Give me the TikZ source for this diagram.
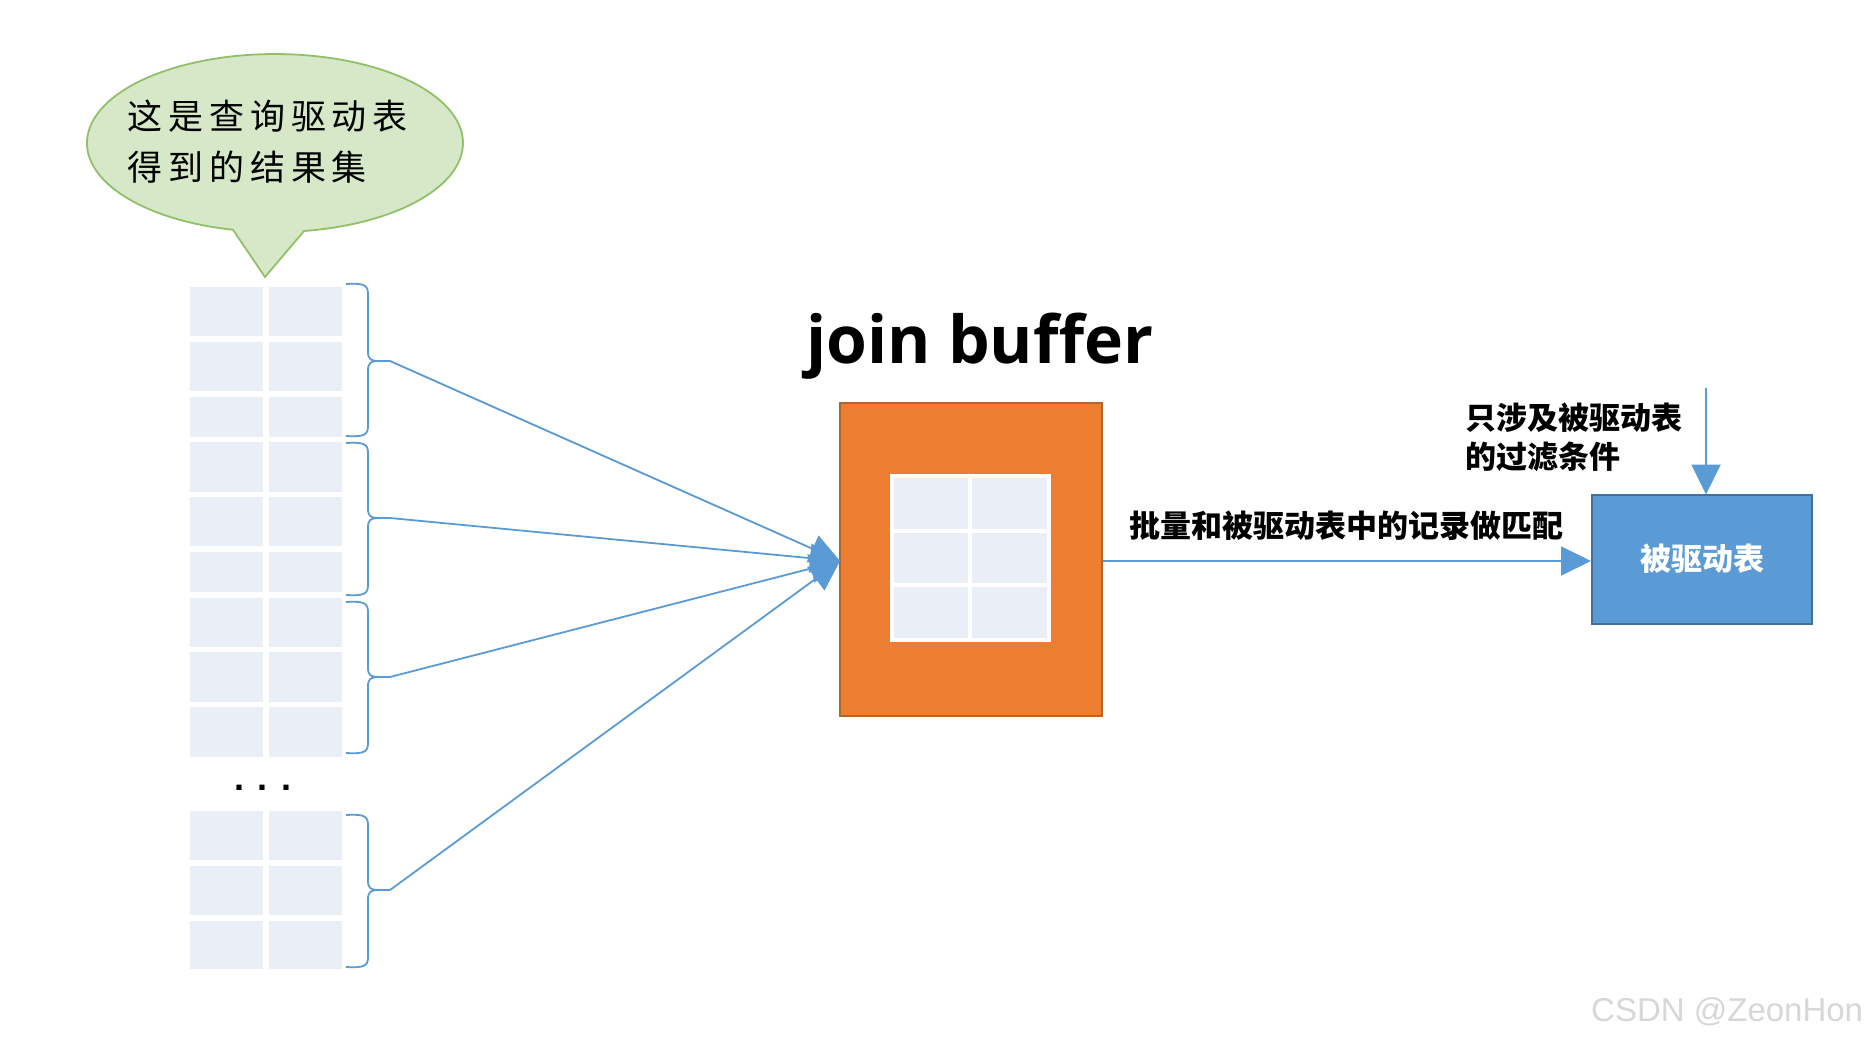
\documentclass[tikz,border=0pt]{standalone}
\usepackage{fontspec}
\usetikzlibrary{arrows.meta}
\newfontfamily\cjk{Noto Sans CJK SC}
\newfontfamily\cjkls[LetterSpace=17]{Noto Sans CJK SC}
\newfontfamily\jbfont{Open Sans}
\newfontfamily\dotfont[LetterSpace=37]{Liberation Sans}
\newfontfamily\wmfont{Liberation Sans}
\definecolor{bubfill}{RGB}{214,232,200}
\definecolor{bubdraw}{RGB}{145,192,105}
\definecolor{cellc}{RGB}{233,238,247}
\definecolor{org}{RGB}{237,125,49}
\definecolor{orgB}{RGB}{180,101,43}
\definecolor{blu}{RGB}{91,155,213}
\definecolor{bluB}{RGB}{65,113,156}
\definecolor{wm}{RGB}{215,215,215}
\tikzset{
  ln/.style={draw=blu, line width=1.8pt},
  arr/.style={ln, -{Triangle[length=30pt,width=29pt]}},
  cell/.style={fill=cellc},
  cjklabel/.style={font=\cjk\bfseries\fontsize{31}{39}\selectfont, inner sep=0pt},
}
\begin{document}
\begin{tikzpicture}[x=1pt,y=-1pt]
\useasboundingbox (0,0) rectangle (1871,1044);
\fill[white] (0,0) rectangle (1871,1044);

% speech bubble
\filldraw[fill=bubfill, draw=bubdraw, line width=1.8pt]
  (233.0,229.8) arc[start angle=102.9, end angle=441.1, x radius=188, y radius=89]
  -- (265,277) -- cycle;
\node[font=\cjkls\fontsize{35}{51}\selectfont, align=left, anchor=west, inner sep=0pt] (bubble) at (127,142)
  {这是查询驱动表\\得到的结果集};

% left tables
\foreach \t/\b in {287/336, 342/391, 397/437, 442/492, 497/546, 552/592, 598/647, 652/702, 707/757, 811/860, 866/915, 921/969} {
  \fill[cell] (190,\t) rectangle (263,\b);
  \fill[cell] (269,\t) rectangle (342,\b);
}
\node[font=\dotfont\bfseries\fontsize{36}{38}\selectfont, inner sep=0pt, anchor=base] (dots) at (263,790) {...};

% braces
\foreach \T/\M/\B/\n in {284/361/436/1, 443/518/595/2, 602/677/753/3, 815/890/967/4} {
  \draw[ln] (346,\T) .. controls (364,\T-1) and (368,\T+1) .. (368,\T+10) -- (368,\M-9)
     .. controls (368,\M-2) and (371,\M) .. (378,\M) -- (390,\M);
  \draw[ln] (346,\B) .. controls (364,\B+1) and (368,\B-1) .. (368,\B-10) -- (368,\M+9)
     .. controls (368,\M+2) and (371,\M) .. (378,\M);
  \coordinate (tip\n) at (390,\M);
}

% join buffer
\node[font=\jbfont\bfseries\fontsize{66}{70}\selectfont, anchor=base, inner sep=0pt] (jb) at (980,363) {join buffer};
\node[draw=orgB, fill=org, line width=2pt, minimum width=262pt, minimum height=313pt, inner sep=0pt] (buf) at (971,559) {};
\node[fill=white, minimum width=161pt, minimum height=168pt, inner sep=0pt] (inner) at (970.5,558) {};
\foreach \t/\b in {478/529, 533/583, 587/638} {
  \fill[cell] (894,\t) rectangle (968,\b);
  \fill[cell] (972,\t) rectangle (1047,\b);
}
\coordinate (bufin) at (840,561);

\foreach \n in {1,2,3,4} { \draw[arr] (tip\n) -- (bufin); }

% driven table
\node[draw=bluB, fill=blu, line width=2pt, minimum width=220pt, minimum height=129pt, inner sep=0pt,
      font=\cjk\bfseries\fontsize{31}{36}\selectfont, text=white] (tbl) at (1702,559) {被驱动表};
\draw[arr] (buf.east |- 0,561) -- (tbl.west |- 0,561);
\coordinate (ftop) at (1706,388);
\draw[arr] (ftop) -- (1706,494.5);

\node[cjklabel] (lab1) at (1346,526) {批量和被驱动表中的记录做匹配};
\node[cjklabel, align=left, anchor=west] (lab2) at (1465,437) {只涉及被驱动表\\的过滤条件};

% watermark
\node[font=\wmfont\fontsize{33}{35}\selectfont, text=wm, anchor=west, inner sep=0pt] (wmk) at (1591,1012) {CSDN @ZeonHon};
\end{tikzpicture}
\end{document}
